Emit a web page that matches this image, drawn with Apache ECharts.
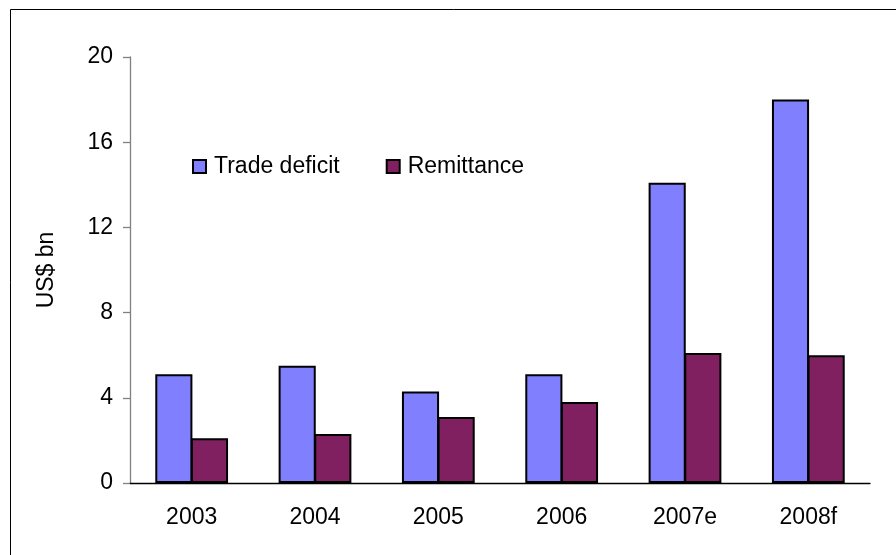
<!DOCTYPE html>
<html>
<head>
<meta charset="utf-8">
<script src="https://cdn.jsdelivr.net/npm/echarts@6/dist/echarts.min.js"></script>
<style>html,body{margin:0;padding:0;background:#fff}#c{width:896px;height:555px}</style>
</head>
<body>
<div id="c"></div>
<script>
const categories = ['2003', '2004', '2005', '2006', '2007e', '2008f'];
const tradeDeficit = [5.1, 5.5, 4.3, 5.1, 14.1, 18.0];
const remittance = [2.1, 2.3, 3.1, 3.8, 6.1, 6.0];
const yTicks = [0, 4, 8, 12, 16, 20];

const FONT = 'Liberation Sans, Arial, sans-serif';
const FS = 23;
const chart = echarts.init(document.getElementById('c'), null, {renderer: 'canvas'});
chart.setOption({
  animation: false,
  backgroundColor: '#fff',
  textStyle: {fontFamily: FONT},
  graphic: [{
    type: 'rect',
    shape: {x: 10.5, y: 9.5, width: 900, height: 600},
    style: {fill: 'none', stroke: '#000', lineWidth: 1},
    silent: true
  }],
  grid: {left: 130, right: 26, top: 57, bottom: 72, containLabel: false},
  legend: {
    left: 187, top: 150,
    itemWidth: 13, itemHeight: 13, itemGap: 46,
    icon: 'rect',
    textStyle: {fontFamily: FONT, fontSize: FS, color: '#000', padding: [0, 0, 0, 3]},
    data: ['Trade deficit', 'Remittance']
  },
  xAxis: {
    type: 'category',
    data: categories,
    axisLine: {lineStyle: {color: '#000', width: 1.3}},
    axisTick: {show: false},
    axisLabel: {fontFamily: FONT, fontSize: FS, color: '#000', margin: 23}
  },
  yAxis: {
    type: 'value',
    min: yTicks[0], max: yTicks[yTicks.length - 1], interval: yTicks[1] - yTicks[0],
    name: 'US$ bn',
    nameLocation: 'middle',
    nameRotate: 90,
    nameGap: 72,
    nameTextStyle: {fontFamily: FONT, fontSize: FS, color: '#000'},
    axisLine: {show: true, lineStyle: {color: '#808080', width: 1.3}},
    axisTick: {show: true, length: 7, lineStyle: {color: '#808080', width: 1.3}},
    splitLine: {show: false},
    axisLabel: {fontFamily: FONT, fontSize: FS, color: '#000', margin: 17}
  },
  series: [
    {
      name: 'Trade deficit', type: 'bar', data: tradeDeficit,
      barGap: '-4%', barCategoryGap: '41%',
      itemStyle: {color: '#8080FF', borderColor: '#000', borderWidth: 2}
    },
    {
      name: 'Remittance', type: 'bar', data: remittance,
      barGap: '-4%', barCategoryGap: '41%',
      itemStyle: {color: '#802060', borderColor: '#000', borderWidth: 2}
    }
  ]
});
</script>
</body>
</html>
